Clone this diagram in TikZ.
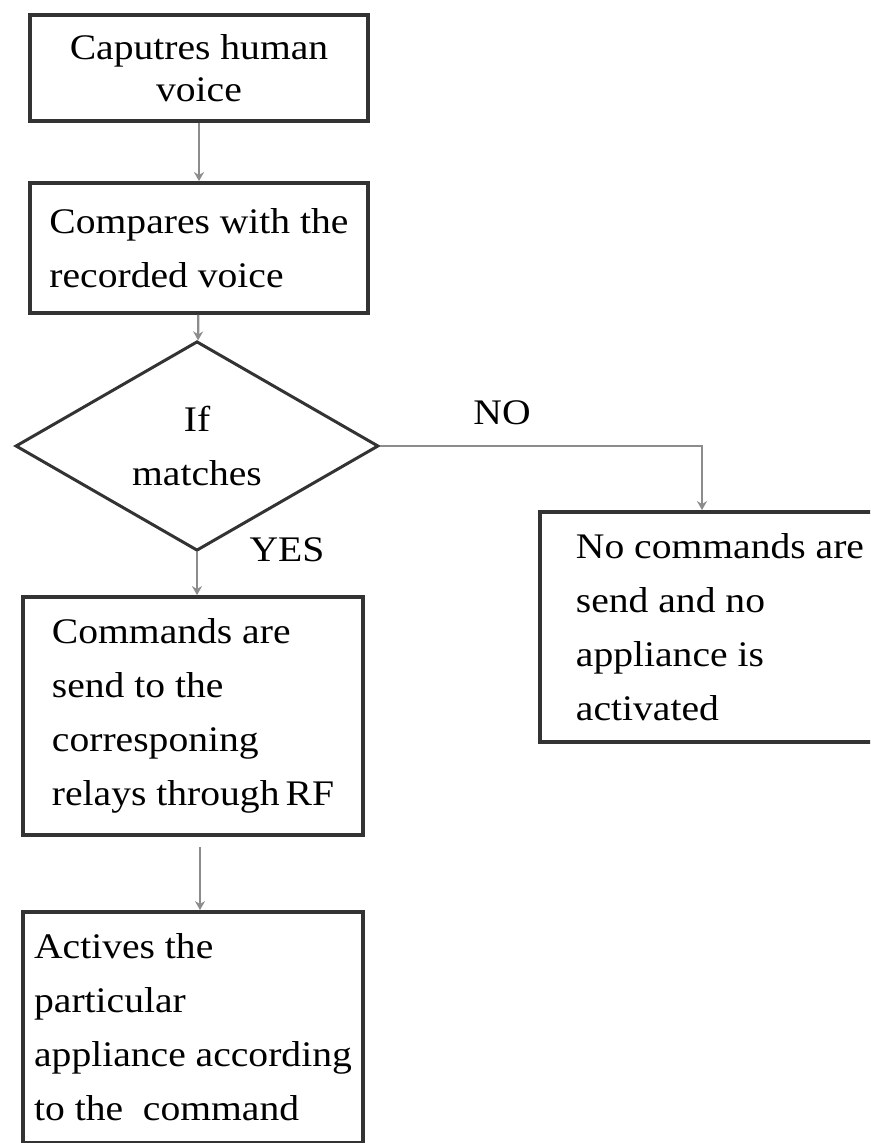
\documentclass[tikz,border=0pt]{standalone}
\usepackage{fontspec}
\setmainfont[FakeStretch=1.1]{Liberation Serif}
\usetikzlibrary{shapes.geometric,arrows.meta}

\begin{document}
\begin{tikzpicture}[x=1pt,y=-1pt,font=\fontsize{36}{54}\selectfont]
      \path[use as bounding box,clip] (0,0) rectangle (870,1143);
      \begin{scope}[every node/.style={rectangle,draw=black!80,line width=3.8pt,align=left,inner sep=0pt}]
        \node[minimum width=338pt,minimum height=106pt,align=center,font=\fontsize{36}{42}\selectfont] (capture) at (199,68) {Caputres human\\voice};
        \node[minimum width=338pt,minimum height=130pt] (compare) at (199,248) {Compares with the\\recorded voice};
        \node[diamond,minimum width=363pt,minimum height=184pt,line width=3pt,align=center] (match) at (197,446) {If\\matches};
        \node[minimum width=340pt,minimum height=238pt] (commands) at (193,716) {Commands are\\send to the\\corresponing\\relays through\,RF};
        \node[minimum width=340pt,minimum height=231pt] (activate) at (193,1027.5) {Actives the\\particular\\appliance according\\to the \ command};
        \node[minimum width=360pt,minimum height=230pt] (nosend) at (720,627) {No commands are\\send and no\\appliance is\\activated};
      \end{scope}
      \node (nolabel) at (502,413) {NO};
      \node (yeslabel) at (287,550) {YES};
      \begin{scope}[every edge/.style={draw,black!45,line width=2.2pt,-{Stealth[length=9pt,width=10pt]}}]
        \path (capture) edge (compare);
        \path (compare) edge (match);
        \path (match.south) edge (match.south |- commands.north);
        \path ([yshift=-10pt]commands.south -| 200,0) edge (200,0 |- activate.north);
        \path (match) edge[to path={-| ([xshift=-18pt]\tikztotarget.north)}] (nosend);
      \end{scope}
    \end{tikzpicture}
\end{document}
